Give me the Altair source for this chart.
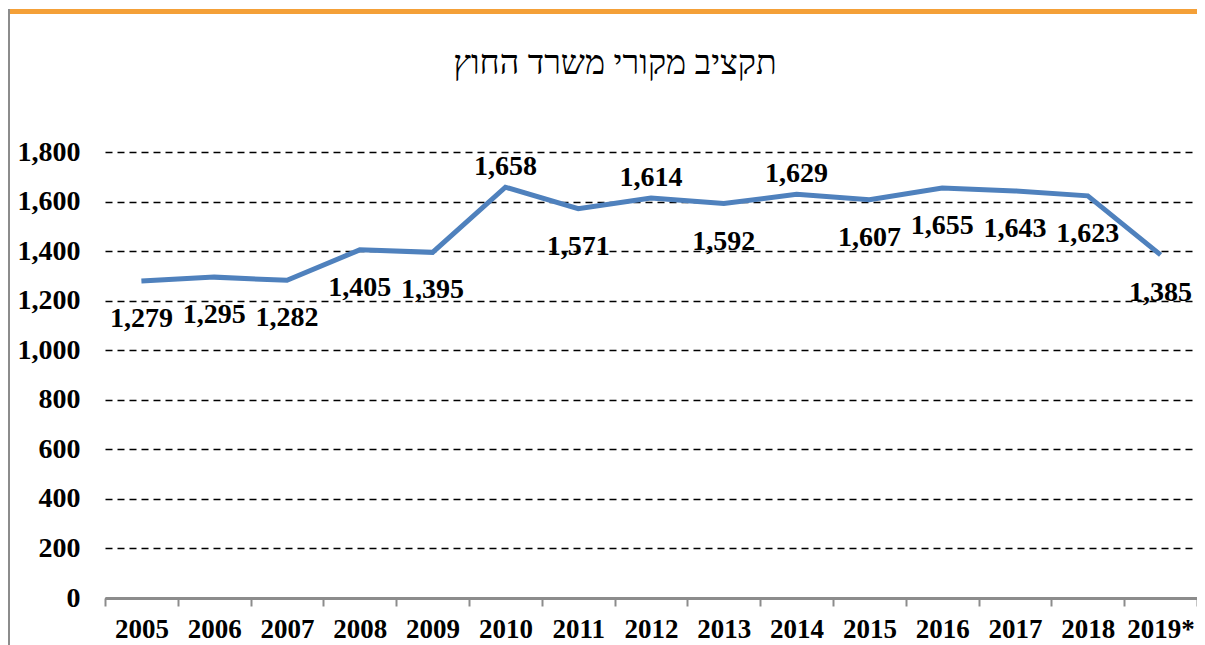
import altair as alt
import pandas as pd

years = ["2005", "2006", "2007", "2008", "2009", "2010", "2011", "2012",
         "2013", "2014", "2015", "2016", "2017", "2018", "2019*"]
values = [1279, 1295, 1282, 1405, 1395, 1658, 1571, 1614,
          1592, 1629, 1607, 1655, 1643, 1623, 1385]
labels_above = ["2010", "2012", "2014"]
title_text = "תקציב מקורי משרד החוץ"
y_ticks = [0, 200, 400, 600, 800, 1000, 1200, 1400, 1600, 1800]

df = pd.DataFrame({"year": years, "value": values})
df["above"] = df["year"].isin(labels_above)

FONT = "Liberation Serif"
FS = 28
W, H = 1092, 446

x_enc = alt.X("year:N", sort=years, bandPosition=0.5,
              scale=alt.Scale(type="band", paddingInner=0, paddingOuter=0),
              axis=alt.Axis(title=None, labelAngle=0, grid=False,
                            tickBand="extent", domainColor="#8c8c8c",
                            domainWidth=3, tickColor="#8c8c8c", tickWidth=2,
                            tickSize=8, labelPadding=10, labelFont=FONT,
                            labelFontSize=27, labelFontWeight="bold",
                            labelColor="black"))
y_enc = alt.Y("value:Q",
              scale=alt.Scale(domain=[0, 1800], nice=False, zero=True),
              axis=alt.Axis(title=None, values=y_ticks, format=",d",
                            domain=False, ticks=False, labelPadding=25,
                            labelFont=FONT, labelFontSize=FS,
                            labelFontWeight="bold", labelColor="black",
                            gridColor="black", gridWidth=1.5,
                            gridDash=[7, 5]))

base = alt.Chart(df)

line = base.mark_line(color="#4F81BD", strokeWidth=5, clip=False).encode(
    x=x_enc, y=y_enc)

text_above = base.transform_filter("datum.above").mark_text(
    font=FONT, fontSize=FS, fontWeight="bold", color="black",
    baseline="middle", dy=-20).encode(
    x=alt.X("year:N", sort=years, bandPosition=0.5),
    y="value:Q", text=alt.Text("value:Q", format=",d"))

text_below = base.transform_filter("!datum.above").mark_text(
    font=FONT, fontSize=FS, fontWeight="bold", color="black",
    baseline="middle", dy=38).encode(
    x=alt.X("year:N", sort=years, bandPosition=0.5),
    y="value:Q", text=alt.Text("value:Q", format=",d"))

one = pd.DataFrame({"t": [title_text]})
title = alt.Chart(one).mark_text(
    font=FONT, fontSize=34, fontWeight="normal", color="black",
    align="center", baseline="middle").encode(
    text="t:N", x=alt.value(510), y=alt.value(-88))

# frame decorations (orange top band and gray left border)
top_bar = alt.Chart(one).mark_rule(
    color="#F4A038", strokeWidth=5, clip=False).encode(
    x=alt.value(-100), x2=alt.value(W + 10), y=alt.value(-140.5))
left_bar = alt.Chart(one).mark_rule(
    color="#8c8c8c", strokeWidth=2, clip=False).encode(
    x=alt.value(-96), y=alt.value(-143), y2=alt.value(H + 60))

chart = alt.layer(line, text_above, text_below, title, top_bar,
                  left_bar).properties(
    width=W, height=H,
    autosize=alt.AutoSizeParams(type="none"),
    padding={"left": 97, "top": 144, "right": 0, "bottom": 52},
).configure_view(stroke=None)

chart.save("out.html", embed_options={"renderer": "svg", "actions": False})
